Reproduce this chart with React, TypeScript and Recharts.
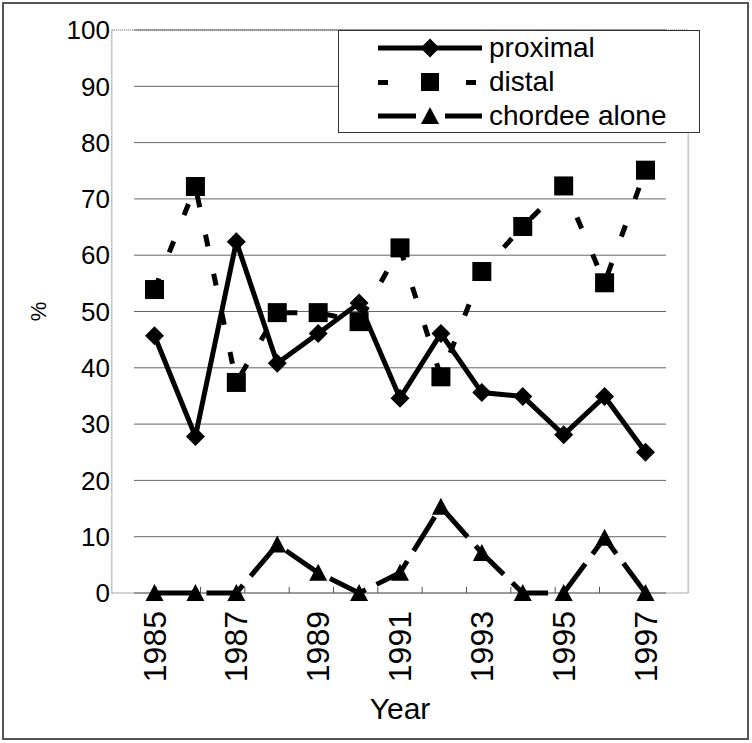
import { CartesianGrid, Legend, Line, LineChart, ReferenceArea, ReferenceLine, XAxis, YAxis } from "recharts"

const years = ["1985", "1986", "1987", "1988", "1989", "1990", "1991", "1992", "1993", "1994", "1995", "1996", "1997"]
const proximal = [45.7, 27.8, 62.4, 40.8, 46.1, 51.5, 34.6, 46.1, 35.6, 34.9, 28.1, 34.9, 25.0]
const distal = [53.9, 72.2, 37.4, 49.8, 49.8, 48.2, 61.3, 38.4, 57.1, 65.1, 72.3, 55.1, 75.1]
const chordeeAlone = [0, 0, 0, 8.6, 3.6, 0, 3.6, 15.3, 7.1, 0, 0, 9.8, 0]
const yTicks = [0, 10, 20, 30, 40, 50, 60, 70, 80, 90, 100]
const boundaryTicks = [0.5, 1.5, 2.5, 3.5, 4.5, 5.5, 6.5, 7.5, 8.5, 9.5, 10.5, 11.5]

const data = years.map((year, i) => ({
  year,
  proximal: proximal[i],
  distal: distal[i],
  chordee: chordeeAlone[i],
}))

const FONT = "'Liberation Sans', Arial, sans-serif"

const diamondPath = (cx: number, cy: number, r = 9.5) =>
  `M${cx},${cy - r}L${cx + r},${cy}L${cx},${cy + r}L${cx - r},${cy}Z`
const trianglePath = (cx: number, cy: number) =>
  `M${cx},${cy - 9}L${cx + 9},${cy + 8}L${cx - 9},${cy + 8}Z`

const DiamondDot = (props: any) => {
  const { cx, cy, index } = props
  if (cx == null || cy == null) return <g key={`pd${index}`} />
  return <path key={`pd${index}`} d={diamondPath(cx, cy)} fill="#000" />
}

const SquareDot = (props: any) => {
  const { cx, cy, index } = props
  if (cx == null || cy == null) return <g key={`dd${index}`} />
  return <rect key={`dd${index}`} x={cx - 9.5} y={cy - 9.5} width={19} height={19} fill="#000" />
}

const TriangleDot = (props: any) => {
  const { cx, cy, index } = props
  if (cx == null || cy == null) return <g key={`cd${index}`} />
  return <path key={`cd${index}`} d={trianglePath(cx, cy)} fill="#000" />
}

const YearTick = (props: any) => {
  const { x, y, payload } = props
  return (
    <text
      x={x + 11}
      y={y + 10}
      transform={`rotate(-90, ${x + 11}, ${y + 10})`}
      textAnchor="end"
      fontSize={32}
      fontFamily={FONT}
      fill="#000"
    >
      {payload.value}
    </text>
  )
}

const legendRows = [
  { name: "proximal", shape: "diamond" },
  { name: "distal", shape: "square" },
  { name: "chordee alone", shape: "triangle" },
]

const LegendIcon = ({ shape }: { shape: string }) => (
  <svg width={110} height={24} style={{ display: "block" }}>
    {shape === "diamond" && (
      <>
        <line x1={0} y1={12} x2={104} y2={12} stroke="#000" strokeWidth={5} />
        <path d={diamondPath(52, 12)} fill="#000" />
      </>
    )}
    {shape === "square" && (
      <>
        <rect x={0} y={10} width={10} height={5} fill="#000" />
        <rect x={43} y={3} width={18} height={18} fill="#000" />
        <rect x={88} y={10} width={10} height={5} fill="#000" />
      </>
    )}
    {shape === "triangle" && (
      <>
        <line x1={0} y1={12} x2={38} y2={12} stroke="#000" strokeWidth={5} />
        <path d={trianglePath(52, 12)} fill="#000" />
        <line x1={67} y1={12} x2={104} y2={12} stroke="#000" strokeWidth={5} />
      </>
    )}
  </svg>
)

const renderLegend = () => (
  <div
    style={{
      width: 362,
      height: 103,
      boxSizing: "border-box",
      border: "1px solid #333",
      background: "#fff",
      paddingTop: 0,
      fontFamily: FONT,
    }}
  >
    {legendRows.map((row) => (
      <div key={row.name} style={{ display: "flex", alignItems: "center", height: 34, paddingLeft: 39 }}>
        <LegendIcon shape={row.shape} />
        <span style={{ fontSize: 28, marginLeft: 1, lineHeight: "28px" }}>{row.name}</span>
      </div>
    ))}
  </div>
)

export default function App() {
  return (
    <div style={{ position: "absolute", left: 0, top: 0, width: 752, height: 743, background: "#fff" }}>
      <div
        style={{
          position: "absolute",
          left: 2,
          top: 2,
          width: 747,
          height: 738,
          boxSizing: "border-box",
          border: "2px solid #555",
        }}
      />
      <div style={{ position: "absolute", left: 0, top: 0 }}>
        <LineChart
          width={752}
          height={743}
          data={data}
          margin={{ top: 30, right: 86, left: 0, bottom: 7 }}
          style={{ fontFamily: FONT }}
        >
          <CartesianGrid vertical={false} stroke="#666" />
          <XAxis
            dataKey="year"
            interval={1}
            padding={{ left: 20.5, right: 20.5 }}
            height={143}
            axisLine={false}
            tickLine={false}
            tick={<YearTick />}
            label={{ value: "Year", position: "insideBottom", offset: 17, fontSize: 30, fill: "#000" }}
          />
          <XAxis xAxisId="sep" type="number" domain={[-0.5, 12.5]} allowDataOverflow hide />
          <YAxis
            domain={[0, 100]}
            ticks={yTicks}
            width={134}
            axisLine={false}
            tickLine={false}
            tickSize={0}
            tickMargin={24}
            tick={{ fontSize: 26, fill: "#000" }}
            label={{ value: "%", angle: -90, position: "insideLeft", offset: 38, fontSize: 22, fill: "#000", style: { textAnchor: "middle" } }}
          />
          <ReferenceArea
            xAxisId="sep"
            x1={-0.5}
            x2={12.5}
            y1={0}
            y2={100}
            fill="none"
            fillOpacity={0}
            stroke="#555"
            strokeDasharray="1 1"
            ifOverflow="visible"
          />
          {boundaryTicks.map((t) => (
            <ReferenceLine
              key={t}
              xAxisId="sep"
              segment={[{ x: t, y: 0 }, { x: t, y: 1.1 }]}
              stroke="#555"
              ifOverflow="visible"
            />
          ))}
          <Legend
            content={renderLegend}
            layout="vertical"
            align="center"
            verticalAlign="middle"
            wrapperStyle={{ left: 338, top: 30, width: 362, height: 103 }}
          />
          <Line
            dataKey="distal"
            name="distal"
            stroke="#000"
            strokeWidth={5}
            strokeDasharray="12 28"
            dot={SquareDot}
            isAnimationActive={false}
          />
          <Line
            dataKey="chordee"
            name="chordee alone"
            stroke="#000"
            strokeWidth={5}
            strokeDasharray="40 12"
            dot={TriangleDot}
            isAnimationActive={false}
          />
          <Line
            dataKey="proximal"
            name="proximal"
            stroke="#000"
            strokeWidth={5}
            dot={DiamondDot}
            isAnimationActive={false}
          />
        </LineChart>
      </div>
    </div>
  )
}
